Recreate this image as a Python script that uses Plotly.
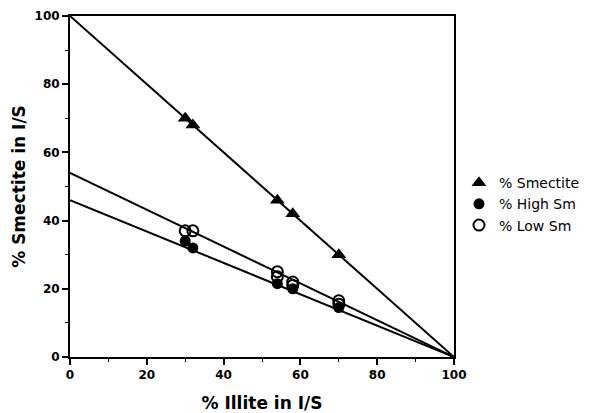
import plotly.graph_objects as go

# Data
illite_sm = [30, 32, 54, 58, 70]
smectite = [70, 68, 46, 42, 30]
illite_high = [30, 32, 54, 58, 70]
high_sm = [34, 32, 21.5, 20, 14.5]
illite_low = [30, 32, 54, 54, 58, 58, 70, 70]
low_sm = [37, 37, 25, 23.5, 22, 21, 16.5, 15.5]

# Fitted lines (endpoints)
line_x = [0, 100]
line_smectite = [100, 0]
line_high = [46, 0]
line_low = [54, 0]

x_ticks = [0, 20, 40, 60, 80, 100]
y_ticks = [0, 20, 40, 60, 80, 100]

fig = go.Figure()
for ly in (line_smectite, line_high, line_low):
    fig.add_trace(go.Scatter(x=line_x, y=ly, mode="lines", line=dict(color="black", width=2),
                             showlegend=False, hoverinfo="skip"))

fig.add_trace(go.Scatter(x=illite_sm, y=smectite, mode="markers", name="% Smectite",
                         marker=dict(symbol="triangle-up", size=13, color="black")))
fig.add_trace(go.Scatter(x=illite_high, y=high_sm, mode="markers", name="% High Sm",
                         marker=dict(symbol="circle", size=11, color="black")))
fig.add_trace(go.Scatter(x=illite_low, y=low_sm, mode="markers", name="% Low Sm",
                         marker=dict(symbol="circle-open", size=11, color="black", line=dict(width=2))))

axis_common = dict(
    showgrid=False, zeroline=False, showline=True, linecolor="black", linewidth=2,
    mirror=True, ticks="outside", ticklen=6, tickwidth=1.5, tickcolor="black",
    automargin=False,
    tickfont=dict(family="DejaVu Sans", size=12, color="black", weight="bold"),
    minor=dict(ticks="outside", ticklen=3, tickwidth=1, tickcolor="black", dtick=10),
)

fig.update_layout(
    width=590, height=413,
    margin=dict(l=62, r=144, t=8, b=64),
    paper_bgcolor="white", plot_bgcolor="white",
    font=dict(family="DejaVu Sans", color="black"),
    xaxis=dict(range=[0, 100], tickvals=x_ticks, **axis_common,
               title=dict(text="<b>% Illite in I/S</b>", font=dict(size=17), standoff=16)),
    yaxis=dict(range=[0, 100], tickvals=y_ticks, **axis_common,
               title=dict(text="<b>% Smectite in I/S</b>", font=dict(size=17), standoff=5)),
    legend=dict(x=1.013, y=0.557, xanchor="left", yanchor="top",
                font=dict(family="DejaVu Sans", size=14, color="black"),
                bgcolor="rgba(0,0,0,0)", tracegroupgap=0, itemwidth=30),
)

fig.write_html("out.html")
